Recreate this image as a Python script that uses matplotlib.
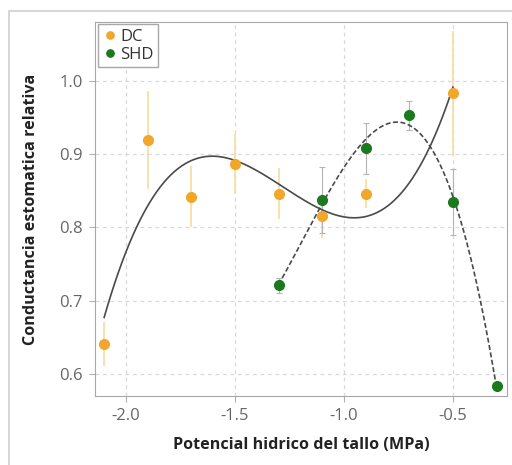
import numpy as np
import matplotlib.pyplot as plt
from matplotlib.patches import Rectangle

plt.rcParams['font.family'] = ['Open Sans', 'DejaVu Sans']

# potencial hidrico del tallo (MPa) y conductancia relativa
x_dc = [-2.1, -1.9, -1.7, -1.5, -1.3, -1.1, -0.9, -0.5]
y_dc = [0.641, 0.919, 0.842, 0.887, 0.846, 0.816, 0.846, 0.983]
err_dc = [0.03, 0.067, 0.042, 0.041, 0.035, 0.03, 0.02, 0.085]

x_shd = [-1.3, -1.1, -0.9, -0.7, -0.5, -0.3]
y_shd = [0.721, 0.838, 0.908, 0.953, 0.835, 0.583]
err_shd = [0.01, 0.045, 0.035, 0.02, 0.045, 0.0]

c_dc = '#f2a72a'
c_shd = '#1b7a1f'

fig = plt.figure(figsize=(5.12, 4.65), dpi=100)
# marco gris alrededor de la figura
fig.patches.append(Rectangle((9/512, -0.1), 1.2, 1 - 11/465 + 0.1,
                             transform=fig.transFigure, fill=False,
                             edgecolor='#d0d0d0', lw=1.2))
ax = fig.add_axes([95/512, 1 - 396/465, 412/512, 374/465])

# ajuste polinomico de tercer grado para cada tratamiento
p_dc = np.polyfit(x_dc, y_dc, 3)
xx = np.linspace(min(x_dc), max(x_dc), 200)
ax.plot(xx, np.polyval(p_dc, xx), color='#4a4a4a', lw=1.2, zorder=3)

p_shd = np.polyfit(x_shd, y_shd, 3)
xx2 = np.linspace(min(x_shd), max(x_shd), 200)
ax.plot(xx2, np.polyval(p_shd, xx2), color='#4a4a4a', lw=1.2, ls=(0, (3, 1.5)), zorder=3)

ax.errorbar(x_dc, y_dc, yerr=err_dc, fmt='none', ecolor='#f8dca0', elinewidth=1.2, zorder=2)
ax.errorbar(x_shd, y_shd, yerr=err_shd, fmt='none', ecolor='#b4b4b4', elinewidth=0.8,
            capsize=2, capthick=0.8, zorder=2)
ax.plot(x_dc, y_dc, 'o', color=c_dc, ms=7, label='DC', zorder=4)
ax.plot(x_shd, y_shd, 'o', color=c_shd, ms=7, label='SHD', zorder=4)

ax.set_xlim(-2.142, -0.252)
ax.set_ylim(0.570, 1.0805)
ax.set_xticks([-2.0, -1.5, -1.0, -0.5])
ax.set_yticks([0.6, 0.7, 0.8, 0.9, 1.0])
ax.set_xticklabels(['-2.0', '-1.5', '-1.0', '-0.5'])
ax.grid(True, ls=(0, (3, 3)), color='#d8d8d8', lw=0.9)
ax.set_axisbelow(True)
for s in ax.spines.values():
    s.set_color('#a8a8a8')
ax.tick_params(colors='#b0b0b0', labelcolor='#666666', labelsize=12, length=4, pad=5)

ax.set_xlabel('Potencial hidrico del tallo (MPa)', fontsize=11.6, fontweight='bold',
              color='#222222', labelpad=9)
ax.set_ylabel('Conductancia estomatica relativa', fontsize=11.6, fontweight='bold',
              color='#222222', labelpad=14)

leg = ax.legend(loc='upper left', fontsize=12, handletextpad=0.1, handlelength=1.0,
                borderaxespad=0.15, borderpad=0.25, labelspacing=0.15, fancybox=False,
                framealpha=1, edgecolor='#a8a8a8', markerscale=0.75)
for t in leg.get_texts():
    t.set_color('#333333')

plt.savefig('out.png', dpi=100)
